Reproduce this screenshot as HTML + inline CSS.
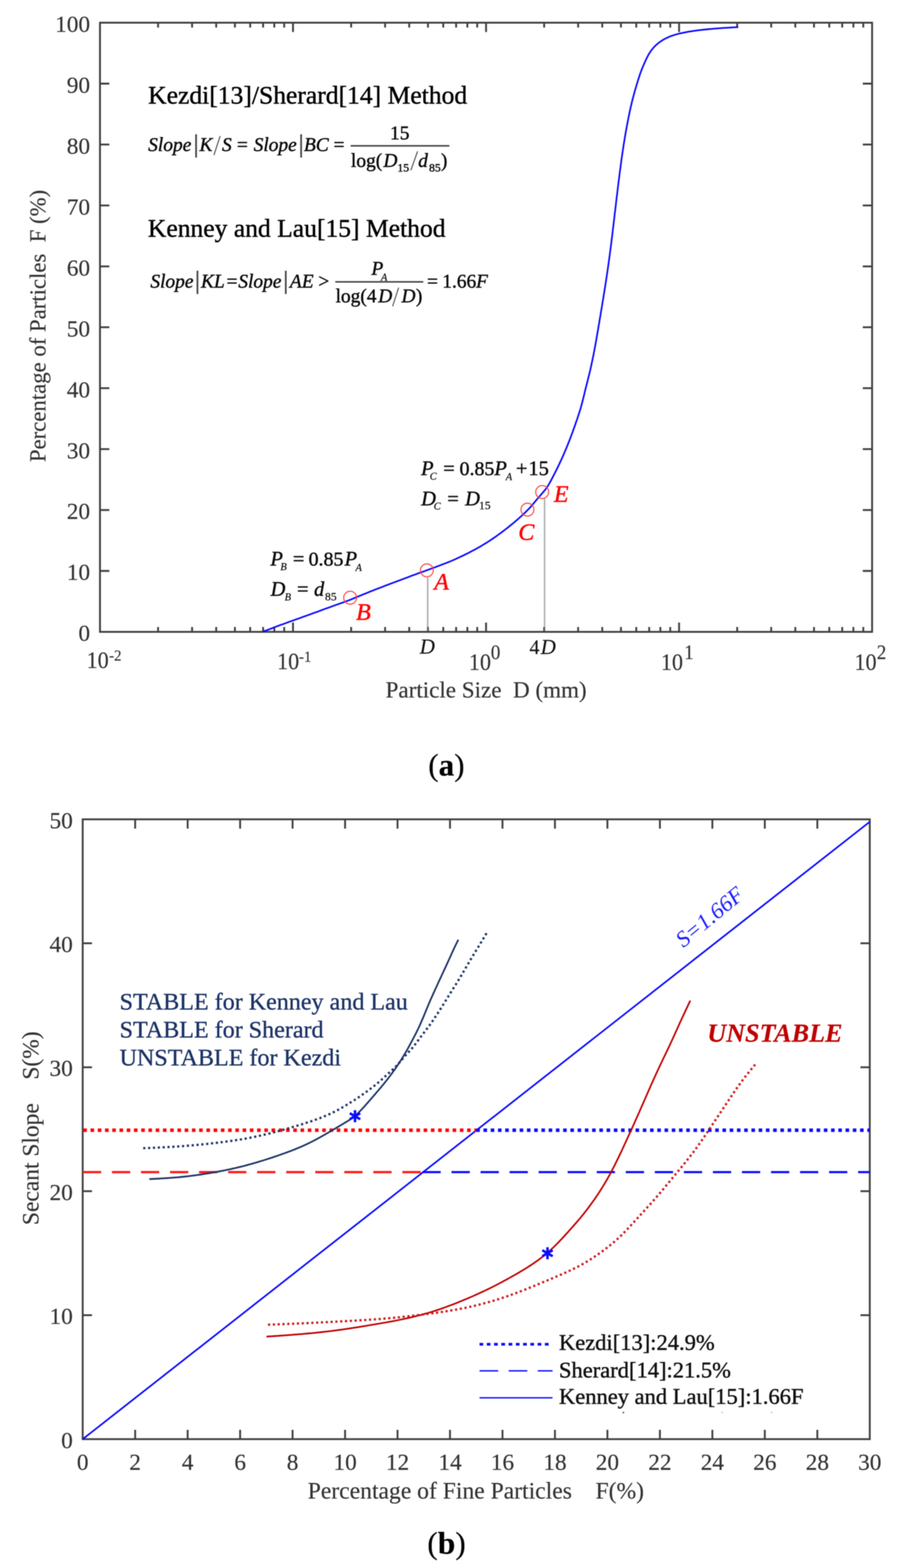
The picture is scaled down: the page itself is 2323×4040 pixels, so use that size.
<!DOCTYPE html>
<html lang="en"><head><meta charset="utf-8"><title>Figure</title>
<style>
html,body{margin:0;padding:0;background:#fff;}
body{width:2323px;height:4040px;overflow:hidden;}
svg{display:block;font-family:'Liberation Serif', 'DejaVu Serif', serif;}
text{white-space:pre;paint-order:stroke;stroke-linejoin:round;}
svg{filter:blur(1.1px);}
</style></head><body>
<svg width="2323" height="4040" viewBox="0 0 2323 4040">
<rect width="2323" height="4040" fill="#fff"/>
<g stroke="#404040" stroke-width="4.8" fill="none" stroke-linecap="butt">
<rect x="257.5" y="58.5" width="1988.5" height="1569.5"/>
<path d="M257.5,1471.0h24 M2246.0,1471.0h-24 M257.5,1314.1h24 M2246.0,1314.1h-24 M257.5,1157.2h24 M2246.0,1157.2h-24 M257.5,1000.2h24 M2246.0,1000.2h-24 M257.5,843.2h24 M2246.0,843.2h-24 M257.5,686.3h24 M2246.0,686.3h-24 M257.5,529.3h24 M2246.0,529.3h-24 M257.5,372.4h24 M2246.0,372.4h-24 M257.5,215.5h24 M2246.0,215.5h-24 M407.1,1628.0v-12.5 M407.1,58.5v12.5 M494.7,1628.0v-12.5 M494.7,58.5v12.5 M556.8,1628.0v-12.5 M556.8,58.5v12.5 M605.0,1628.0v-12.5 M605.0,58.5v12.5 M644.3,1628.0v-12.5 M644.3,58.5v12.5 M677.6,1628.0v-12.5 M677.6,58.5v12.5 M706.4,1628.0v-12.5 M706.4,58.5v12.5 M731.9,1628.0v-12.5 M731.9,58.5v12.5 M754.6,1628.0v-24 M754.6,58.5v24 M904.3,1628.0v-12.5 M904.3,58.5v12.5 M991.8,1628.0v-12.5 M991.8,58.5v12.5 M1053.9,1628.0v-12.5 M1053.9,58.5v12.5 M1102.1,1628.0v-12.5 M1102.1,58.5v12.5 M1141.5,1628.0v-12.5 M1141.5,58.5v12.5 M1174.7,1628.0v-12.5 M1174.7,58.5v12.5 M1203.6,1628.0v-12.5 M1203.6,58.5v12.5 M1229.0,1628.0v-12.5 M1229.0,58.5v12.5 M1251.8,1628.0v-24 M1251.8,58.5v24 M1401.4,1628.0v-12.5 M1401.4,58.5v12.5 M1488.9,1628.0v-12.5 M1488.9,58.5v12.5 M1551.0,1628.0v-12.5 M1551.0,58.5v12.5 M1599.2,1628.0v-12.5 M1599.2,58.5v12.5 M1638.6,1628.0v-12.5 M1638.6,58.5v12.5 M1671.9,1628.0v-12.5 M1671.9,58.5v12.5 M1700.7,1628.0v-12.5 M1700.7,58.5v12.5 M1726.1,1628.0v-12.5 M1726.1,58.5v12.5 M1748.9,1628.0v-24 M1748.9,58.5v24 M1898.5,1628.0v-12.5 M1898.5,58.5v12.5 M1986.1,1628.0v-12.5 M1986.1,58.5v12.5 M2048.2,1628.0v-12.5 M2048.2,58.5v12.5 M2096.4,1628.0v-12.5 M2096.4,58.5v12.5 M2135.7,1628.0v-12.5 M2135.7,58.5v12.5 M2169.0,1628.0v-12.5 M2169.0,58.5v12.5 M2197.8,1628.0v-12.5 M2197.8,58.5v12.5 M2223.3,1628.0v-12.5 M2223.3,58.5v12.5 "/>
</g>
<text x="232.0" y="1651.3" font-size="60" fill="#333333" stroke="#333333" stroke-width="0.4" text-anchor="end">0</text>
<text x="232.0" y="1494.3" font-size="60" fill="#333333" stroke="#333333" stroke-width="0.4" text-anchor="end">10</text>
<text x="232.0" y="1337.4" font-size="60" fill="#333333" stroke="#333333" stroke-width="0.4" text-anchor="end">20</text>
<text x="232.0" y="1180.5" font-size="60" fill="#333333" stroke="#333333" stroke-width="0.4" text-anchor="end">30</text>
<text x="232.0" y="1023.5" font-size="60" fill="#333333" stroke="#333333" stroke-width="0.4" text-anchor="end">40</text>
<text x="232.0" y="866.5" font-size="60" fill="#333333" stroke="#333333" stroke-width="0.4" text-anchor="end">50</text>
<text x="232.0" y="709.6" font-size="60" fill="#333333" stroke="#333333" stroke-width="0.4" text-anchor="end">60</text>
<text x="232.0" y="552.6" font-size="60" fill="#333333" stroke="#333333" stroke-width="0.4" text-anchor="end">70</text>
<text x="232.0" y="395.7" font-size="60" fill="#333333" stroke="#333333" stroke-width="0.4" text-anchor="end">80</text>
<text x="232.0" y="238.8" font-size="60" fill="#333333" stroke="#333333" stroke-width="0.4" text-anchor="end">90</text>
<text x="232.0" y="81.8" font-size="60" fill="#333333" stroke="#333333" stroke-width="0.4" text-anchor="end">100</text>
<text x="223.0" y="1721.0" font-size="61" fill="#333333" stroke="#333333" stroke-width="0.4" textLength="57" lengthAdjust="spacingAndGlyphs">10</text>
<text x="281.0" y="1702.0" font-size="41" fill="#333333" stroke="#333333" stroke-width="0.4" textLength="31.8" lengthAdjust="spacingAndGlyphs">-2</text>
<text x="713.5" y="1724.0" font-size="61" fill="#333333" stroke="#333333" stroke-width="0.4" textLength="57" lengthAdjust="spacingAndGlyphs">10</text>
<text x="770.0" y="1705.0" font-size="41" fill="#333333" stroke="#333333" stroke-width="0.4" textLength="31.8" lengthAdjust="spacingAndGlyphs">-1</text>
<text x="1207.5" y="1726.0" font-size="61" fill="#333333" stroke="#333333" stroke-width="0.4" textLength="57" lengthAdjust="spacingAndGlyphs">10</text>
<text x="1264.0" y="1698.0" font-size="53" fill="#333333" stroke="#333333" stroke-width="0.4" textLength="24.6" lengthAdjust="spacingAndGlyphs">0</text>
<text x="1702.0" y="1726.0" font-size="61" fill="#333333" stroke="#333333" stroke-width="0.4" textLength="57" lengthAdjust="spacingAndGlyphs">10</text>
<text x="1762.0" y="1698.0" font-size="53" fill="#333333" stroke="#333333" stroke-width="0.4" textLength="24.6" lengthAdjust="spacingAndGlyphs">1</text>
<text x="2200.5" y="1726.0" font-size="61" fill="#333333" stroke="#333333" stroke-width="0.4" textLength="57" lengthAdjust="spacingAndGlyphs">10</text>
<text x="2258.0" y="1698.0" font-size="53" fill="#333333" stroke="#333333" stroke-width="0.4" textLength="24.6" lengthAdjust="spacingAndGlyphs">2</text>
<text x="993.0" y="1796.5" font-size="59.4" fill="#333333" stroke="#333333" stroke-width="0.4">Particle Size&#160;&#160;D (mm)</text>
<text x="116.5" y="1190.5" font-size="58.6" fill="#333333" stroke="#333333" stroke-width="0.4" transform="rotate(-90 116.5 1190.5)">Percentage of Particles&#160;&#160;F (%)</text>
<path d="M1101.5,1489V1626 M1402.5,1286V1626" stroke="#7a7a7a" stroke-width="3.8" stroke-dasharray="2.6 1.4" fill="none"/>
<path d="M676.5,1627.8 L681.2,1626.0 L685.8,1624.2 L690.5,1622.4 L695.2,1620.7 L699.8,1618.9 L704.5,1617.1 L709.2,1615.3 L713.8,1613.6 L718.5,1611.8 L723.2,1610.1 L727.9,1608.4 L732.6,1606.7 L737.3,1605.0 L742.0,1603.3 L746.7,1601.6 L751.4,1599.9 L756.1,1598.2 L760.8,1596.5 L765.5,1594.8 L770.2,1593.2 L774.9,1591.5 L779.6,1589.8 L784.3,1588.1 L789.0,1586.4 L793.7,1584.7 L798.4,1583.0 L803.1,1581.3 L807.8,1579.6 L812.5,1577.9 L817.2,1576.2 L821.9,1574.5 L826.6,1572.8 L831.2,1571.0 L835.9,1569.3 L840.6,1567.6 L845.3,1565.9 L850.0,1564.2 L854.7,1562.5 L859.4,1560.8 L864.1,1559.1 L868.8,1557.5 L873.5,1555.8 L878.2,1554.1 L883.0,1552.5 L887.7,1550.8 L892.3,1549.1 L897.0,1547.3 L901.7,1545.5 L906.3,1543.6 L910.9,1541.7 L915.5,1539.8 L920.1,1537.8 L924.7,1535.9 L929.4,1534.0 L934.0,1532.1 L938.6,1530.2 L943.2,1528.4 L947.9,1526.5 L952.5,1524.6 L957.1,1522.8 L961.8,1521.0 L966.4,1519.1 L971.1,1517.3 L975.7,1515.5 L980.4,1513.7 L985.1,1511.9 L989.7,1510.1 L994.4,1508.3 L999.1,1506.5 L1003.7,1504.8 L1008.4,1503.0 L1013.1,1501.3 L1017.8,1499.5 L1022.4,1497.8 L1027.1,1496.0 L1031.8,1494.2 L1036.5,1492.5 L1041.1,1490.7 L1045.8,1488.9 L1050.5,1487.2 L1055.1,1485.4 L1059.8,1483.6 L1064.5,1481.9 L1069.2,1480.2 L1073.9,1478.4 L1078.6,1476.8 L1083.3,1475.1 L1088.0,1473.4 L1092.7,1471.7 L1097.4,1470.0 L1102.1,1468.3 L1106.8,1466.6 L1111.5,1464.9 L1116.1,1463.1 L1120.8,1461.4 L1125.5,1459.6 L1130.2,1457.9 L1134.8,1456.1 L1139.5,1454.3 L1144.2,1452.6 L1148.8,1450.8 L1153.5,1448.9 L1158.1,1447.1 L1162.7,1445.1 L1167.3,1443.1 L1171.9,1441.1 L1176.4,1439.0 L1180.9,1436.9 L1185.5,1434.8 L1190.0,1432.7 L1194.5,1430.5 L1199.0,1428.3 L1203.4,1426.1 L1207.9,1423.8 L1212.3,1421.5 L1216.8,1419.2 L1221.2,1416.9 L1225.6,1414.5 L1229.9,1412.0 L1234.3,1409.6 L1238.6,1407.1 L1242.9,1404.5 L1247.2,1401.9 L1251.4,1399.3 L1255.7,1396.7 L1259.9,1394.0 L1264.0,1391.2 L1268.2,1388.4 L1272.3,1385.6 L1276.4,1382.8 L1280.5,1379.9 L1284.5,1376.9 L1288.6,1374.0 L1292.6,1371.0 L1296.5,1368.0 L1300.5,1364.9 L1304.5,1361.9 L1308.4,1358.8 L1312.3,1355.7 L1316.2,1352.5 L1320.0,1349.3 L1323.9,1346.1 L1327.7,1342.9 L1331.5,1339.7 L1335.2,1336.4 L1339.0,1333.0 L1342.7,1329.7 L1346.3,1326.3 L1350.0,1322.9 L1353.6,1319.4 L1357.1,1315.9 L1360.6,1312.3 L1364.1,1308.7 L1367.4,1305.0 L1370.7,1301.3 L1373.9,1297.4 L1377.1,1293.6 L1380.3,1289.7 L1383.5,1285.9 L1386.7,1282.1 L1390.0,1278.3 L1393.3,1274.5 L1396.6,1270.8 L1399.8,1267.0 L1403.0,1263.1 L1406.1,1259.2 L1409.0,1255.1 L1411.7,1251.0 L1414.2,1246.7 L1416.7,1242.3 L1419.1,1237.9 L1421.4,1233.5 L1423.7,1229.0 L1426.0,1224.6 L1428.3,1220.2 L1430.5,1215.7 L1432.8,1211.2 L1435.0,1206.8 L1437.2,1202.3 L1439.3,1197.8 L1441.5,1193.3 L1443.6,1188.7 L1445.7,1184.2 L1447.8,1179.7 L1449.8,1175.1 L1451.8,1170.5 L1453.8,1165.9 L1455.7,1161.3 L1457.7,1156.7 L1459.6,1152.1 L1461.5,1147.5 L1463.3,1142.9 L1465.2,1138.2 L1467.0,1133.6 L1468.8,1128.9 L1470.5,1124.2 L1472.3,1119.5 L1474.0,1114.9 L1475.7,1110.2 L1477.4,1105.5 L1479.1,1100.8 L1480.8,1096.0 L1482.4,1091.3 L1484.0,1086.6 L1485.7,1081.9 L1487.3,1077.1 L1488.8,1072.4 L1490.4,1067.7 L1491.9,1062.9 L1493.4,1058.1 L1494.9,1053.3 L1496.3,1048.6 L1497.6,1043.7 L1498.9,1038.9 L1500.2,1034.1 L1501.4,1029.3 L1502.6,1024.4 L1503.8,1019.6 L1505.0,1014.7 L1506.1,1009.8 L1507.3,1005.0 L1508.5,1000.1 L1509.7,995.3 L1510.9,990.4 L1512.2,985.6 L1513.4,980.8 L1514.6,975.9 L1515.8,971.1 L1517.0,966.2 L1518.2,961.4 L1519.4,956.5 L1520.5,951.6 L1521.6,946.8 L1522.7,941.9 L1523.7,937.0 L1524.8,932.1 L1525.8,927.2 L1526.8,922.4 L1527.8,917.5 L1528.8,912.6 L1529.7,907.7 L1530.7,902.7 L1531.6,897.8 L1532.5,892.9 L1533.4,888.0 L1534.3,883.1 L1535.2,878.2 L1536.0,873.3 L1536.9,868.3 L1537.7,863.4 L1538.6,858.5 L1539.4,853.6 L1540.3,848.6 L1541.1,843.7 L1541.9,838.8 L1542.8,833.9 L1543.6,828.9 L1544.4,824.0 L1545.2,819.1 L1546.1,814.2 L1546.9,809.2 L1547.7,804.3 L1548.5,799.4 L1549.4,794.5 L1550.2,789.5 L1551.0,784.6 L1551.8,779.7 L1552.6,774.7 L1553.4,769.8 L1554.2,764.9 L1555.0,760.0 L1555.8,755.0 L1556.6,750.1 L1557.4,745.2 L1558.2,740.2 L1558.9,735.3 L1559.7,730.4 L1560.5,725.4 L1561.2,720.5 L1562.0,715.5 L1562.7,710.6 L1563.4,705.7 L1564.2,700.7 L1564.9,695.8 L1565.6,690.8 L1566.3,685.9 L1567.0,680.9 L1567.7,676.0 L1568.4,671.0 L1569.0,666.1 L1569.7,661.1 L1570.4,656.2 L1571.0,651.2 L1571.7,646.3 L1572.3,641.3 L1573.0,636.4 L1573.6,631.4 L1574.2,626.5 L1574.8,621.5 L1575.4,616.6 L1576.1,611.6 L1576.7,606.6 L1577.3,601.7 L1577.9,596.7 L1578.4,591.8 L1579.0,586.8 L1579.6,581.8 L1580.2,576.9 L1580.8,571.9 L1581.4,567.0 L1582.0,562.0 L1582.5,557.0 L1583.1,552.1 L1583.7,547.1 L1584.3,542.2 L1584.9,537.2 L1585.5,532.2 L1586.1,527.3 L1586.6,522.3 L1587.2,517.4 L1587.8,512.4 L1588.4,507.4 L1589.0,502.5 L1589.6,497.5 L1590.2,492.6 L1590.8,487.6 L1591.4,482.6 L1592.0,477.7 L1592.6,472.7 L1593.2,467.8 L1593.9,462.8 L1594.5,457.9 L1595.1,452.9 L1595.7,448.0 L1596.4,443.0 L1597.0,438.0 L1597.7,433.1 L1598.3,428.1 L1599.0,423.2 L1599.6,418.2 L1600.3,413.3 L1601.0,408.3 L1601.7,403.4 L1602.4,398.4 L1603.1,393.5 L1603.9,388.6 L1604.6,383.6 L1605.3,378.7 L1606.1,373.7 L1606.9,368.8 L1607.7,363.9 L1608.5,359.0 L1609.3,354.0 L1610.1,349.1 L1611.0,344.2 L1611.8,339.3 L1612.7,334.3 L1613.6,329.4 L1614.5,324.5 L1615.4,319.6 L1616.4,314.7 L1617.3,309.8 L1618.3,304.9 L1619.3,300.0 L1620.3,295.1 L1621.3,290.2 L1622.3,285.3 L1623.4,280.4 L1624.5,275.6 L1625.6,270.7 L1626.8,265.8 L1627.9,261.0 L1629.2,256.1 L1630.4,251.3 L1631.7,246.5 L1633.0,241.7 L1634.3,236.9 L1635.7,232.0 L1637.1,227.2 L1638.5,222.5 L1639.9,217.7 L1641.4,212.9 L1642.8,208.1 L1644.3,203.3 L1645.8,198.6 L1647.4,193.8 L1649.0,189.1 L1650.7,184.4 L1652.5,179.7 L1654.3,175.1 L1656.2,170.5 L1658.2,165.9 L1660.2,161.3 L1662.3,156.7 L1664.4,152.2 L1666.6,147.7 L1668.9,143.3 L1671.3,138.9 L1674.0,134.7 L1676.8,130.6 L1679.8,126.6 L1683.1,122.8 L1686.5,119.1 L1690.1,115.7 L1693.9,112.4 L1697.8,109.3 L1701.9,106.4 L1706.1,103.7 L1710.4,101.2 L1714.8,98.9 L1719.3,96.7 L1723.9,94.6 L1728.5,92.8 L1733.2,91.2 L1738.0,89.7 L1742.8,88.3 L1747.6,87.0 L1752.5,85.9 L1757.4,84.8 L1762.2,83.8 L1767.2,82.8 L1772.1,81.9 L1777.0,81.1 L1781.9,80.3 L1786.9,79.6 L1791.8,78.9 L1796.8,78.2 L1801.7,77.6 L1806.7,77.1 L1811.7,76.5 L1816.6,76.0 L1821.6,75.5 L1826.6,75.0 L1831.5,74.6 L1836.5,74.2 L1841.5,73.7 L1846.5,73.3 L1851.5,72.9 L1856.4,72.6 L1861.4,72.2 L1866.4,71.9 L1871.4,71.6 L1876.4,71.3 L1881.4,71.0 L1886.3,70.7 L1891.3,70.4 L1896.3,70.1 L1901.3,69.8" stroke="#0a0aff" stroke-width="4.3" fill="none" stroke-linejoin="round"/>
<circle cx="901.7" cy="1540" r="16.6" stroke="#ff4545" stroke-width="2.8" fill="none"/>
<circle cx="1099.3" cy="1469.6" r="16.6" stroke="#ff4545" stroke-width="2.8" fill="none"/>
<circle cx="1358.4" cy="1313.1" r="16.6" stroke="#ff4545" stroke-width="2.8" fill="none"/>
<circle cx="1396.3" cy="1267.8" r="16.6" stroke="#ff4545" stroke-width="2.8" fill="none"/>
<text x="1081.0" y="1684.0" font-size="54" fill="#111" stroke="#111" stroke-width="0.3" font-style="italic">D</text>
<text x="1363.5" y="1684.5" font-size="52" fill="#111" stroke="#111" stroke-width="0.3">4</text>
<text x="1392.5" y="1684.5" font-size="54" fill="#111" stroke="#111" stroke-width="0.3" font-style="italic">D</text>
<text x="381.6" y="266.5" font-size="65.9" fill="#000" stroke="#000" stroke-width="1.0">Kezdi[13]/Sherard[14] Method</text>
<text x="380.8" y="610.0" font-size="65.9" fill="#000" stroke="#000" stroke-width="1.0">Kenney and Lau[15] Method</text>
<text x="381.5" y="388.5" font-size="50" fill="#0a0a0a" stroke="#0a0a0a" stroke-width="1.0" font-style="italic">Slope</text>
<path d="M505,346V406" stroke="#444" stroke-width="4.4" fill="none"/>
<text x="513.8" y="388.5" font-size="50" fill="#0a0a0a" stroke="#0a0a0a" stroke-width="1.0" font-style="italic">K</text>
<path d="M567,350.5L551,399.5" stroke="#4a4a4a" stroke-width="2.6" fill="none"/>
<text x="571.7" y="388.5" font-size="50" fill="#0a0a0a" stroke="#0a0a0a" stroke-width="1.0" font-style="italic">S</text>
<text x="610.2" y="388.5" font-size="50" fill="#0a0a0a" stroke="#0a0a0a" stroke-width="1.0">=</text>
<text x="653.2" y="388.5" font-size="50" fill="#0a0a0a" stroke="#0a0a0a" stroke-width="1.0" font-style="italic">Slope</text>
<path d="M775.5,346V406" stroke="#444" stroke-width="4.4" fill="none"/>
<text x="782.8" y="388.5" font-size="50" fill="#0a0a0a" stroke="#0a0a0a" stroke-width="1.0" font-style="italic">BC</text>
<text x="859.0" y="388.5" font-size="50" fill="#0a0a0a" stroke="#0a0a0a" stroke-width="1.0">=</text>
<path d="M903,375.8H1157.5" stroke="#444" stroke-width="4" fill="none"/>
<text x="1004.6" y="359.4" font-size="50" fill="#0a0a0a" stroke="#0a0a0a" stroke-width="1.0">15</text>
<text x="903.8" y="429.5" font-size="50" fill="#0a0a0a" stroke="#0a0a0a" stroke-width="1.0">log(</text>
<text x="987.6" y="429.5" font-size="50" fill="#0a0a0a" stroke="#0a0a0a" stroke-width="1.0" font-style="italic">D</text>
<text x="1023.4" y="442.2" font-size="30" fill="#0a0a0a" stroke="#0a0a0a" stroke-width="1.0">15</text>
<path d="M1075.4,390L1058,439" stroke="#4a4a4a" stroke-width="2.6" fill="none"/>
<text x="1077.1" y="429.5" font-size="50" fill="#0a0a0a" stroke="#0a0a0a" stroke-width="1.0" font-style="italic">d</text>
<text x="1104.9" y="442.2" font-size="30" fill="#0a0a0a" stroke="#0a0a0a" stroke-width="1.0">85</text>
<text x="1135.4" y="429.5" font-size="50" fill="#0a0a0a" stroke="#0a0a0a" stroke-width="1.0">)</text>
<text x="387.2" y="740.7" font-size="50" fill="#0a0a0a" stroke="#0a0a0a" stroke-width="1.0" font-style="italic">Slope</text>
<path d="M508.5,697.5V757.5" stroke="#444" stroke-width="4.4" fill="none"/>
<text x="517.6" y="740.7" font-size="50" fill="#0a0a0a" stroke="#0a0a0a" stroke-width="1.0" font-style="italic">KL</text>
<text x="583.4" y="740.7" font-size="50" fill="#0a0a0a" stroke="#0a0a0a" stroke-width="1.0">=</text>
<text x="613.7" y="740.7" font-size="50" fill="#0a0a0a" stroke="#0a0a0a" stroke-width="1.0" font-style="italic">Slope</text>
<path d="M736,697.5V757.5" stroke="#444" stroke-width="4.4" fill="none"/>
<text x="746.6" y="740.7" font-size="50" fill="#0a0a0a" stroke="#0a0a0a" stroke-width="1.0" font-style="italic">AE</text>
<text x="819.8" y="740.7" font-size="50" fill="#0a0a0a" stroke="#0a0a0a" stroke-width="1.0">&gt;</text>
<path d="M863.5,726.2H1090.2" stroke="#444" stroke-width="4" fill="none"/>
<text x="956.6" y="708.4" font-size="50" fill="#0a0a0a" stroke="#0a0a0a" stroke-width="1.0" font-style="italic">P</text>
<text x="981.0" y="722.8" font-size="27" fill="#0a0a0a" stroke="#0a0a0a" stroke-width="0.4" font-style="italic">A</text>
<text x="864.2" y="778.8" font-size="50" fill="#0a0a0a" stroke="#0a0a0a" stroke-width="1.0">log(4</text>
<text x="974.0" y="778.8" font-size="50" fill="#0a0a0a" stroke="#0a0a0a" stroke-width="1.0" font-style="italic">D</text>
<path d="M1026.6,741L1011.2,789.1" stroke="#4a4a4a" stroke-width="2.6" fill="none"/>
<text x="1034.1" y="778.8" font-size="50" fill="#0a0a0a" stroke="#0a0a0a" stroke-width="1.0" font-style="italic">D</text>
<text x="1070.9" y="778.8" font-size="50" fill="#0a0a0a" stroke="#0a0a0a" stroke-width="1.0">)</text>
<text x="1099.7" y="740.7" font-size="50" fill="#0a0a0a" stroke="#0a0a0a" stroke-width="1.0">=</text>
<text x="1139.0" y="740.7" font-size="50" fill="#0a0a0a" stroke="#0a0a0a" stroke-width="1.0">1.66</text>
<text x="1226.1" y="740.7" font-size="50" fill="#0a0a0a" stroke="#0a0a0a" stroke-width="1.0" font-style="italic">F</text>
<text x="916.9" y="1596.9" font-size="62" fill="#ff0000" stroke="#ff0000" stroke-width="1.0" font-style="italic">B</text>
<text x="1118.3" y="1518.9" font-size="62" fill="#ff0000" stroke="#ff0000" stroke-width="1.0" font-style="italic">A</text>
<text x="1334.8" y="1390.8" font-size="62" fill="#ff0000" stroke="#ff0000" stroke-width="1.0" font-style="italic">C</text>
<text x="1426.5" y="1293.2" font-size="62" fill="#ff0000" stroke="#ff0000" stroke-width="1.0" font-style="italic">E</text>
<text x="696.6" y="1456.8" font-size="52.5" fill="#0a0a0a" stroke="#0a0a0a" stroke-width="1.0" font-style="italic">P</text>
<text x="722.1" y="1469.1" font-size="27" fill="#0a0a0a" stroke="#0a0a0a" stroke-width="0.4" font-style="italic">B</text>
<text x="754.2" y="1456.8" font-size="52.5" fill="#0a0a0a" stroke="#0a0a0a" stroke-width="1.0">=</text>
<text x="794.7" y="1456.8" font-size="51.3" fill="#0a0a0a" stroke="#0a0a0a" stroke-width="1.0">0.85</text>
<text x="887.6" y="1456.8" font-size="52.5" fill="#0a0a0a" stroke="#0a0a0a" stroke-width="1.0" font-style="italic">P</text>
<text x="915.5" y="1470.5" font-size="27" fill="#0a0a0a" stroke="#0a0a0a" stroke-width="0.4" font-style="italic">A</text>
<text x="696.9" y="1535.0" font-size="52.5" fill="#0a0a0a" stroke="#0a0a0a" stroke-width="1.0" font-style="italic">D</text>
<text x="733.1" y="1547.4" font-size="27" fill="#0a0a0a" stroke="#0a0a0a" stroke-width="0.4" font-style="italic">B</text>
<text x="765.1" y="1535.0" font-size="52.5" fill="#0a0a0a" stroke="#0a0a0a" stroke-width="1.0">=</text>
<text x="808.7" y="1535.0" font-size="52.5" fill="#0a0a0a" stroke="#0a0a0a" stroke-width="1.0" font-style="italic">d</text>
<text x="836.9" y="1546.6" font-size="30" fill="#0a0a0a" stroke="#0a0a0a" stroke-width="0.5">85</text>
<text x="1084.4" y="1223.5" font-size="52.5" fill="#0a0a0a" stroke="#0a0a0a" stroke-width="1.0" font-style="italic">P</text>
<text x="1106.7" y="1236.2" font-size="27" fill="#0a0a0a" stroke="#0a0a0a" stroke-width="0.4" font-style="italic">C</text>
<text x="1141.6" y="1223.5" font-size="52.5" fill="#0a0a0a" stroke="#0a0a0a" stroke-width="1.0">=</text>
<text x="1183.5" y="1223.5" font-size="51.3" fill="#0a0a0a" stroke="#0a0a0a" stroke-width="1.0">0.85</text>
<text x="1273.3" y="1223.5" font-size="52.5" fill="#0a0a0a" stroke="#0a0a0a" stroke-width="1.0" font-style="italic">P</text>
<text x="1302.5" y="1236.5" font-size="27" fill="#0a0a0a" stroke="#0a0a0a" stroke-width="0.4" font-style="italic">A</text>
<text x="1328.8" y="1223.5" font-size="52.5" fill="#0a0a0a" stroke="#0a0a0a" stroke-width="1.0">+</text>
<text x="1361.1" y="1223.5" font-size="52.5" fill="#0a0a0a" stroke="#0a0a0a" stroke-width="1.0">15</text>
<text x="1084.7" y="1301.5" font-size="52.5" fill="#0a0a0a" stroke="#0a0a0a" stroke-width="1.0" font-style="italic">D</text>
<text x="1117.0" y="1312.8" font-size="27" fill="#0a0a0a" stroke="#0a0a0a" stroke-width="0.4" font-style="italic">C</text>
<text x="1151.9" y="1301.5" font-size="52.5" fill="#0a0a0a" stroke="#0a0a0a" stroke-width="1.0">=</text>
<text x="1198.1" y="1301.5" font-size="52.5" fill="#0a0a0a" stroke="#0a0a0a" stroke-width="1.0" font-style="italic">D</text>
<text x="1233.4" y="1311.8" font-size="30" fill="#0a0a0a" stroke="#0a0a0a" stroke-width="0.5">15</text>
<g stroke="#404040" stroke-width="4.8" fill="none">
<rect x="213.0" y="2111.0" width="2027.0" height="1597.0"/>
<path d="M213.0,3388.6h24 M2240.0,3388.6h-24 M213.0,3069.2h24 M2240.0,3069.2h-24 M213.0,2749.8h24 M2240.0,2749.8h-24 M213.0,2430.4h24 M2240.0,2430.4h-24 M348.1,3708.0v-24 M348.1,2111.0v24 M483.3,3708.0v-24 M483.3,2111.0v24 M618.4,3708.0v-24 M618.4,2111.0v24 M753.5,3708.0v-24 M753.5,2111.0v24 M888.7,3708.0v-24 M888.7,2111.0v24 M1023.8,3708.0v-24 M1023.8,2111.0v24 M1158.9,3708.0v-24 M1158.9,2111.0v24 M1294.1,3708.0v-24 M1294.1,2111.0v24 M1429.2,3708.0v-24 M1429.2,2111.0v24 M1564.3,3708.0v-24 M1564.3,2111.0v24 M1699.5,3708.0v-24 M1699.5,2111.0v24 M1834.6,3708.0v-24 M1834.6,2111.0v24 M1969.7,3708.0v-24 M1969.7,2111.0v24 M2104.9,3708.0v-24 M2104.9,2111.0v24 "/>
</g>
<text x="187.5" y="3730.5" font-size="60" fill="#333333" stroke="#333333" stroke-width="0.4" text-anchor="end">0</text>
<text x="187.5" y="3411.1" font-size="60" fill="#333333" stroke="#333333" stroke-width="0.4" text-anchor="end">10</text>
<text x="187.5" y="3091.7" font-size="60" fill="#333333" stroke="#333333" stroke-width="0.4" text-anchor="end">20</text>
<text x="187.5" y="2772.3" font-size="60" fill="#333333" stroke="#333333" stroke-width="0.4" text-anchor="end">30</text>
<text x="187.5" y="2452.9" font-size="60" fill="#333333" stroke="#333333" stroke-width="0.4" text-anchor="end">40</text>
<text x="187.5" y="2133.5" font-size="60" fill="#333333" stroke="#333333" stroke-width="0.4" text-anchor="end">50</text>
<text x="213.0" y="3787.0" font-size="60" fill="#333333" stroke="#333333" stroke-width="0.4" text-anchor="middle">0</text>
<text x="348.1" y="3787.0" font-size="60" fill="#333333" stroke="#333333" stroke-width="0.4" text-anchor="middle">2</text>
<text x="483.3" y="3787.0" font-size="60" fill="#333333" stroke="#333333" stroke-width="0.4" text-anchor="middle">4</text>
<text x="618.4" y="3787.0" font-size="60" fill="#333333" stroke="#333333" stroke-width="0.4" text-anchor="middle">6</text>
<text x="753.5" y="3787.0" font-size="60" fill="#333333" stroke="#333333" stroke-width="0.4" text-anchor="middle">8</text>
<text x="888.7" y="3787.0" font-size="60" fill="#333333" stroke="#333333" stroke-width="0.4" text-anchor="middle">10</text>
<text x="1023.8" y="3787.0" font-size="60" fill="#333333" stroke="#333333" stroke-width="0.4" text-anchor="middle">12</text>
<text x="1158.9" y="3787.0" font-size="60" fill="#333333" stroke="#333333" stroke-width="0.4" text-anchor="middle">14</text>
<text x="1294.1" y="3787.0" font-size="60" fill="#333333" stroke="#333333" stroke-width="0.4" text-anchor="middle">16</text>
<text x="1429.2" y="3787.0" font-size="60" fill="#333333" stroke="#333333" stroke-width="0.4" text-anchor="middle">18</text>
<text x="1564.3" y="3787.0" font-size="60" fill="#333333" stroke="#333333" stroke-width="0.4" text-anchor="middle">20</text>
<text x="1699.5" y="3787.0" font-size="60" fill="#333333" stroke="#333333" stroke-width="0.4" text-anchor="middle">22</text>
<text x="1834.6" y="3787.0" font-size="60" fill="#333333" stroke="#333333" stroke-width="0.4" text-anchor="middle">24</text>
<text x="1969.7" y="3787.0" font-size="60" fill="#333333" stroke="#333333" stroke-width="0.4" text-anchor="middle">26</text>
<text x="2104.9" y="3787.0" font-size="60" fill="#333333" stroke="#333333" stroke-width="0.4" text-anchor="middle">28</text>
<text x="2240.0" y="3787.0" font-size="60" fill="#333333" stroke="#333333" stroke-width="0.4" text-anchor="middle">30</text>
<text x="792.5" y="3861.0" font-size="60.8" fill="#333333" stroke="#333333" stroke-width="0.4">Percentage of Fine Particles&#160;&#160;&#160;&#160;F(%)</text>
<text x="98.5" y="3156.5" font-size="60.5" fill="#333333" stroke="#333333" stroke-width="0.4" transform="rotate(-90 98.5 3156.5)">Secant Slope&#160;&#160;&#160;&#160;S(%)</text>
<path d="M213.0,3708.0L2240.0,2117.4" stroke="#0a0aff" stroke-width="4.3" fill="none"/>
<path d="M213.0,2912H1226.5" stroke="#ff0000" stroke-width="8.8" stroke-dasharray="9.2 9.45" stroke-dashoffset="-1.5" fill="none"/>
<path d="M1226.5,2912H2240.0" stroke="#0a0aff" stroke-width="8.8" stroke-dasharray="9.2 9.45" fill="none"/>
<path d="M213.0,3020H1088.0" stroke="#ff2020" stroke-width="5.8" stroke-dasharray="47 27.8" stroke-dashoffset="-0.5" fill="none"/>
<path d="M1088.0,3020H2240.0" stroke="#0a0aff" stroke-width="5.6" stroke-dasharray="47 27.8" fill="none"/>
<path d="M384.5,3038.0 L389.5,3037.7 L394.5,3037.5 L399.5,3037.2 L404.4,3037.0 L409.4,3036.7 L414.4,3036.4 L419.4,3036.1 L424.4,3035.8 L429.3,3035.5 L434.3,3035.1 L439.3,3034.8 L444.3,3034.4 L449.2,3034.0 L454.2,3033.6 L459.2,3033.2 L464.1,3032.7 L469.1,3032.2 L474.1,3031.7 L479.0,3031.2 L484.0,3030.6 L488.9,3030.0 L493.9,3029.4 L498.8,3028.8 L503.8,3028.1 L508.7,3027.4 L513.7,3026.7 L518.6,3026.0 L523.5,3025.2 L528.5,3024.4 L533.4,3023.6 L538.3,3022.8 L543.2,3022.0 L548.1,3021.1 L553.1,3020.3 L558.0,3019.4 L562.9,3018.5 L567.8,3017.5 L572.7,3016.6 L577.6,3015.6 L582.5,3014.6 L587.4,3013.6 L592.2,3012.6 L597.1,3011.5 L602.0,3010.4 L606.8,3009.3 L611.7,3008.1 L616.5,3007.0 L621.4,3005.8 L626.2,3004.6 L631.0,3003.3 L635.9,3002.0 L640.7,3000.7 L645.5,2999.4 L650.3,2998.1 L655.1,2996.7 L659.9,2995.3 L664.7,2993.9 L669.4,2992.4 L674.2,2991.0 L679.0,2989.5 L683.7,2988.0 L688.5,2986.5 L693.2,2984.9 L698.0,2983.4 L702.7,2981.8 L707.4,2980.2 L712.2,2978.6 L716.9,2977.0 L721.6,2975.3 L726.3,2973.7 L731.0,2972.0 L735.7,2970.3 L740.4,2968.6 L745.1,2966.8 L749.8,2965.1 L754.4,2963.3 L759.1,2961.4 L763.7,2959.5 L768.3,2957.6 L772.9,2955.7 L777.5,2953.7 L782.0,2951.7 L786.6,2949.6 L791.1,2947.5 L795.6,2945.3 L800.0,2943.1 L804.5,2940.9 L808.9,2938.6 L813.3,2936.3 L817.7,2933.9 L822.1,2931.5 L826.4,2929.1 L830.8,2926.6 L835.1,2924.2 L839.5,2921.7 L843.8,2919.2 L848.1,2916.7 L852.4,2914.1 L856.7,2911.6 L861.0,2909.1 L865.3,2906.5 L869.6,2904.0 L873.9,2901.4 L878.2,2898.9 L882.5,2896.3 L886.8,2893.7 L891.1,2891.1 L895.3,2888.5 L899.5,2885.8 L903.6,2883.0 L907.6,2880.1 L911.6,2877.1 L915.4,2873.9 L919.1,2870.7 L922.8,2867.3 L926.3,2863.8 L929.8,2860.3 L933.2,2856.6 L936.6,2852.9 L939.9,2849.2 L943.2,2845.4 L946.5,2841.7 L949.8,2837.9 L953.1,2834.1 L956.4,2830.3 L959.6,2826.6 L962.9,2822.8 L966.2,2819.0 L969.4,2815.2 L972.7,2811.4 L975.9,2807.6 L979.1,2803.8 L982.3,2800.0 L985.5,2796.2 L988.7,2792.3 L991.8,2788.4 L994.9,2784.5 L998.0,2780.6 L1001.0,2776.7 L1004.0,2772.7 L1007.0,2768.7 L1010.0,2764.7 L1012.9,2760.6 L1015.8,2756.6 L1018.7,2752.5 L1021.5,2748.4 L1024.3,2744.2 L1027.0,2740.1 L1029.8,2735.9 L1032.5,2731.7 L1035.1,2727.5 L1037.7,2723.2 L1040.3,2719.0 L1042.9,2714.7 L1045.4,2710.4 L1047.9,2706.0 L1050.3,2701.7 L1052.7,2697.3 L1055.1,2692.9 L1057.5,2688.5 L1059.8,2684.1 L1062.2,2679.7 L1064.5,2675.3 L1066.8,2670.9 L1069.1,2666.5 L1071.4,2662.0 L1073.6,2657.6 L1075.8,2653.1 L1077.9,2648.6 L1080.0,2644.1 L1082.1,2639.5 L1084.1,2635.0 L1086.1,2630.4 L1088.0,2625.8 L1090.0,2621.2 L1091.9,2616.6 L1093.8,2612.0 L1095.7,2607.4 L1097.6,2602.8 L1099.5,2598.1 L1101.4,2593.5 L1103.3,2588.9 L1105.3,2584.3 L1107.2,2579.7 L1109.2,2575.2 L1111.2,2570.6 L1113.3,2566.1 L1115.3,2561.5 L1117.4,2557.0 L1119.4,2552.4 L1121.5,2547.9 L1123.6,2543.4 L1125.7,2538.8 L1127.7,2534.3 L1129.8,2529.7 L1131.9,2525.2 L1134.0,2520.7 L1136.1,2516.1 L1138.2,2511.6 L1140.3,2507.1 L1142.4,2502.6 L1144.5,2498.0 L1146.6,2493.5 L1148.7,2489.0 L1150.8,2484.5 L1152.9,2479.9 L1154.9,2475.4 L1157.0,2470.9 L1159.1,2466.3 L1161.1,2461.8 L1163.2,2457.2 L1165.2,2452.7 L1167.3,2448.2 L1169.4,2443.6 L1171.5,2439.1 L1173.7,2434.6 L1175.9,2430.1 L1178.1,2425.7 L1180.3,2421.2" stroke="#1c3366" stroke-width="4.4" fill="none"/>
<path d="M368.8,2958.4 L373.8,2958.2 L378.8,2958.0 L383.7,2957.8 L388.7,2957.6 L393.7,2957.3 L398.7,2957.1 L403.6,2956.9 L408.6,2956.7 L413.6,2956.4 L418.6,2956.2 L423.5,2955.9 L428.5,2955.7 L433.5,2955.4 L438.5,2955.1 L443.4,2954.8 L448.4,2954.5 L453.4,2954.2 L458.3,2953.9 L463.3,2953.5 L468.3,2953.2 L473.2,2952.8 L478.2,2952.4 L483.2,2952.0 L488.1,2951.6 L493.1,2951.1 L498.1,2950.7 L503.0,2950.3 L508.0,2949.8 L512.9,2949.3 L517.9,2948.8 L522.9,2948.3 L527.8,2947.8 L532.8,2947.3 L537.7,2946.7 L542.7,2946.2 L547.6,2945.6 L552.6,2945.1 L557.5,2944.5 L562.5,2943.9 L567.4,2943.3 L572.4,2942.7 L577.3,2942.0 L582.2,2941.4 L587.2,2940.7 L592.1,2940.0 L597.0,2939.3 L602.0,2938.6 L606.9,2937.8 L611.8,2937.1 L616.7,2936.3 L621.7,2935.5 L626.6,2934.6 L631.5,2933.8 L636.4,2932.9 L641.3,2932.0 L646.2,2931.0 L651.0,2930.1 L655.9,2929.1 L660.8,2928.0 L665.7,2927.0 L670.5,2925.9 L675.4,2924.8 L680.3,2923.7 L685.1,2922.6 L689.9,2921.4 L694.8,2920.2 L699.6,2919.0 L704.4,2917.7 L709.2,2916.4 L714.1,2915.1 L718.9,2913.8 L723.7,2912.5 L728.5,2911.2 L733.2,2909.8 L738.0,2908.4 L742.8,2907.0 L747.6,2905.6 L752.4,2904.2 L757.2,2902.8 L761.9,2901.4 L766.7,2900.0 L771.5,2898.5 L776.2,2897.1 L781.0,2895.6 L785.8,2894.1 L790.5,2892.5 L795.2,2891.0 L799.9,2889.4 L804.7,2887.8 L809.4,2886.1 L814.0,2884.5 L818.7,2882.7 L823.4,2881.0 L828.0,2879.2 L832.7,2877.3 L837.3,2875.4 L841.8,2873.5 L846.4,2871.5 L850.9,2869.4 L855.4,2867.3 L859.9,2865.1 L864.4,2862.9 L868.8,2860.6 L873.2,2858.2 L877.5,2855.8 L881.9,2853.3 L886.1,2850.8 L890.4,2848.2 L894.7,2845.6 L898.9,2843.0 L903.1,2840.3 L907.4,2837.7 L911.6,2835.1 L915.8,2832.4 L920.0,2829.7 L924.1,2826.9 L928.2,2824.1 L932.3,2821.2 L936.3,2818.4 L940.4,2815.4 L944.4,2812.5 L948.4,2809.5 L952.4,2806.5 L956.3,2803.5 L960.3,2800.5 L964.2,2797.4 L968.1,2794.3 L971.9,2791.1 L975.7,2787.9 L979.5,2784.6 L983.2,2781.3 L986.9,2778.0 L990.6,2774.6 L994.3,2771.2 L997.9,2767.9 L1001.6,2764.5 L1005.3,2761.2 L1009.0,2757.8 L1012.6,2754.5 L1016.2,2751.0 L1019.7,2747.5 L1023.1,2743.9 L1026.4,2740.2 L1029.7,2736.4 L1032.9,2732.6 L1036.2,2728.8 L1039.4,2725.1 L1042.7,2721.3 L1046.1,2717.6 L1049.5,2714.0 L1052.8,2710.3 L1056.2,2706.6 L1059.4,2702.9 L1062.6,2699.1 L1065.7,2695.2 L1068.8,2691.3 L1071.8,2687.3 L1074.8,2683.3 L1077.8,2679.3 L1080.7,2675.3 L1083.7,2671.3 L1086.7,2667.4 L1089.8,2663.4 L1092.8,2659.5 L1095.9,2655.5 L1098.9,2651.6 L1101.9,2647.6 L1104.9,2643.7 L1107.8,2639.6 L1110.7,2635.6 L1113.5,2631.5 L1116.3,2627.3 L1119.1,2623.2 L1121.8,2619.0 L1124.6,2614.9 L1127.3,2610.7 L1130.0,2606.5 L1132.7,2602.3 L1135.4,2598.1 L1138.0,2593.9 L1140.7,2589.7 L1143.3,2585.5 L1145.9,2581.2 L1148.6,2577.0 L1151.2,2572.8 L1153.8,2568.5 L1156.4,2564.3 L1159.1,2560.1 L1161.7,2555.8 L1164.4,2551.6 L1167.0,2547.4 L1169.7,2543.2 L1172.3,2539.0 L1175.0,2534.8 L1177.6,2530.5 L1180.2,2526.3 L1182.8,2522.0 L1185.4,2517.8 L1187.9,2513.5 L1190.5,2509.2 L1193.0,2504.9 L1195.5,2500.6 L1198.0,2496.3 L1200.5,2492.0 L1203.0,2487.7 L1205.5,2483.4 L1208.1,2479.1 L1210.6,2474.8 L1213.1,2470.5 L1215.7,2466.2 L1218.2,2462.0 L1220.8,2457.7 L1223.4,2453.5 L1226.0,2449.2 L1228.6,2445.0 L1231.2,2440.7 L1233.8,2436.5 L1236.4,2432.2 L1239.0,2428.0 L1241.6,2423.7 L1244.1,2419.4 L1246.7,2415.2 L1249.2,2410.9 L1251.8,2406.6 L1254.3,2402.3" stroke="#1c3366" stroke-width="5.8" stroke-dasharray="5.6 6.9" fill="none"/>
<path d="M686.3,3443.8 L691.3,3443.5 L696.2,3443.1 L701.2,3442.8 L706.2,3442.5 L711.2,3442.1 L716.1,3441.8 L721.1,3441.5 L726.1,3441.1 L731.1,3440.8 L736.0,3440.4 L741.0,3440.1 L746.0,3439.7 L750.9,3439.3 L755.9,3438.9 L760.9,3438.5 L765.8,3438.1 L770.8,3437.7 L775.8,3437.3 L780.7,3436.9 L785.7,3436.4 L790.7,3436.0 L795.6,3435.5 L800.6,3435.1 L805.6,3434.6 L810.5,3434.1 L815.5,3433.6 L820.4,3433.1 L825.4,3432.5 L830.3,3432.0 L835.3,3431.4 L840.2,3430.9 L845.2,3430.3 L850.1,3429.7 L855.1,3429.1 L860.0,3428.5 L865.0,3427.9 L869.9,3427.2 L874.9,3426.5 L879.8,3425.9 L884.7,3425.2 L889.7,3424.4 L894.6,3423.7 L899.5,3423.0 L904.4,3422.2 L909.4,3421.4 L914.3,3420.7 L919.2,3419.9 L924.1,3419.1 L929.1,3418.3 L934.0,3417.4 L938.9,3416.6 L943.8,3415.8 L948.7,3415.0 L953.6,3414.2 L958.6,3413.4 L963.5,3412.5 L968.4,3411.7 L973.3,3410.9 L978.2,3410.0 L983.1,3409.2 L988.0,3408.3 L992.9,3407.5 L997.9,3406.6 L1002.8,3405.7 L1007.7,3404.8 L1012.6,3403.9 L1017.5,3403.0 L1022.3,3402.0 L1027.2,3401.0 L1032.1,3400.0 L1037.0,3399.0 L1041.9,3398.0 L1046.8,3396.9 L1051.6,3395.8 L1056.5,3394.7 L1061.3,3393.6 L1066.2,3392.4 L1071.0,3391.2 L1075.9,3390.0 L1080.7,3388.8 L1085.5,3387.5 L1090.3,3386.2 L1095.1,3384.9 L1099.9,3383.5 L1104.7,3382.1 L1109.5,3380.7 L1114.2,3379.2 L1119.0,3377.7 L1123.7,3376.1 L1128.5,3374.6 L1133.2,3373.0 L1137.9,3371.4 L1142.6,3369.7 L1147.3,3368.0 L1152.0,3366.3 L1156.6,3364.6 L1161.3,3362.8 L1166.0,3361.0 L1170.6,3359.2 L1175.2,3357.4 L1179.9,3355.5 L1184.5,3353.6 L1189.1,3351.8 L1193.7,3349.8 L1198.3,3347.9 L1202.9,3346.0 L1207.5,3344.0 L1212.1,3342.1 L1216.6,3340.1 L1221.2,3338.1 L1225.8,3336.0 L1230.3,3334.0 L1234.8,3331.9 L1239.4,3329.8 L1243.9,3327.7 L1248.4,3325.6 L1252.9,3323.4 L1257.4,3321.3 L1261.8,3319.1 L1266.3,3316.9 L1270.8,3314.6 L1275.2,3312.3 L1279.6,3310.1 L1284.0,3307.8 L1288.5,3305.4 L1292.9,3303.1 L1297.2,3300.7 L1301.6,3298.4 L1306.0,3296.0 L1310.4,3293.5 L1314.7,3291.1 L1319.1,3288.7 L1323.4,3286.2 L1327.7,3283.8 L1332.1,3281.3 L1336.4,3278.8 L1340.7,3276.2 L1345.0,3273.7 L1349.2,3271.1 L1353.5,3268.5 L1357.7,3265.8 L1361.9,3263.1 L1366.1,3260.4 L1370.2,3257.7 L1374.4,3254.9 L1378.5,3252.1 L1382.5,3249.2 L1386.6,3246.3 L1390.6,3243.3 L1394.5,3240.3 L1398.5,3237.2 L1402.4,3234.1 L1406.2,3230.9 L1410.0,3227.7 L1413.8,3224.4 L1417.5,3221.1 L1421.1,3217.7 L1424.8,3214.3 L1428.4,3210.8 L1431.9,3207.3 L1435.4,3203.8 L1438.9,3200.2 L1442.3,3196.6 L1445.8,3193.0 L1449.2,3189.3 L1452.5,3185.7 L1455.9,3182.0 L1459.2,3178.3 L1462.6,3174.6 L1465.9,3170.9 L1469.2,3167.1 L1472.5,3163.4 L1475.8,3159.7 L1479.1,3156.0 L1482.4,3152.2 L1485.7,3148.5 L1488.9,3144.7 L1492.2,3140.9 L1495.4,3137.0 L1498.5,3133.2 L1501.7,3129.3 L1504.8,3125.4 L1507.8,3121.5 L1510.9,3117.6 L1513.9,3113.6 L1516.9,3109.6 L1519.9,3105.6 L1522.8,3101.6 L1525.7,3097.5 L1528.6,3093.5 L1531.5,3089.4 L1534.3,3085.3 L1537.1,3081.1 L1539.9,3077.0 L1542.6,3072.8 L1545.3,3068.7 L1548.0,3064.5 L1550.6,3060.2 L1553.3,3056.0 L1555.8,3051.7 L1558.4,3047.4 L1560.9,3043.1 L1563.4,3038.8 L1565.8,3034.5 L1568.3,3030.1 L1570.7,3025.8 L1573.0,3021.4 L1575.4,3017.0 L1577.7,3012.6 L1580.0,3008.1 L1582.3,3003.7 L1584.5,2999.2 L1586.7,2994.8 L1588.9,2990.3 L1591.1,2985.8 L1593.3,2981.3 L1595.4,2976.8 L1597.6,2972.3 L1599.7,2967.8 L1601.8,2963.3 L1603.9,2958.8 L1606.0,2954.3 L1608.1,2949.7 L1610.2,2945.2 L1612.3,2940.7 L1614.3,2936.2 L1616.4,2931.6 L1618.5,2927.1 L1620.6,2922.6 L1622.6,2918.0 L1624.7,2913.5 L1626.8,2909.0 L1628.8,2904.4 L1630.9,2899.9 L1632.9,2895.3 L1635.0,2890.8 L1637.0,2886.2 L1639.0,2881.7 L1641.0,2877.1 L1643.1,2872.6 L1645.1,2868.0 L1647.1,2863.5 L1649.1,2858.9 L1651.1,2854.3 L1653.1,2849.8 L1655.1,2845.2 L1657.1,2840.6 L1659.1,2836.1 L1661.1,2831.5 L1663.1,2826.9 L1665.1,2822.4 L1667.1,2817.8 L1669.1,2813.2 L1671.1,2808.7 L1673.1,2804.1 L1675.1,2799.6 L1677.1,2795.0 L1679.1,2790.4 L1681.2,2785.9 L1683.2,2781.3 L1685.3,2776.8 L1687.3,2772.3 L1689.4,2767.7 L1691.5,2763.2 L1693.6,2758.7 L1695.7,2754.2 L1697.8,2749.6 L1699.9,2745.1 L1702.0,2740.6 L1704.2,2736.1 L1706.3,2731.6 L1708.5,2727.1 L1710.6,2722.6 L1712.8,2718.2 L1714.9,2713.7 L1717.1,2709.2 L1719.2,2704.7 L1721.4,2700.2 L1723.5,2695.7 L1725.6,2691.1 L1727.7,2686.6 L1729.8,2682.1 L1731.9,2677.6 L1734.0,2673.0 L1736.0,2668.5 L1738.1,2664.0 L1740.1,2659.4 L1742.2,2654.9 L1744.2,2650.3 L1746.3,2645.8 L1748.3,2641.2 L1750.4,2636.7 L1752.4,2632.2 L1754.5,2627.6 L1756.6,2623.1 L1758.7,2618.6 L1760.8,2614.1 L1762.9,2609.5 L1765.0,2605.0 L1767.1,2600.5 L1769.3,2596.0 L1771.4,2591.5 L1773.5,2587.0 L1775.7,2582.5 L1777.8,2578.0" stroke="#c00000" stroke-width="4.3" fill="none"/>
<path d="M690.2,3413.2 L695.2,3413.0 L700.2,3412.8 L705.2,3412.6 L710.2,3412.4 L715.2,3412.2 L720.2,3412.0 L725.2,3411.8 L730.2,3411.7 L735.1,3411.5 L740.1,3411.3 L745.1,3411.0 L750.1,3410.8 L755.1,3410.6 L760.1,3410.4 L765.1,3410.2 L770.1,3410.0 L775.1,3409.8 L780.1,3409.5 L785.1,3409.3 L790.1,3409.1 L795.1,3408.8 L800.1,3408.6 L805.0,3408.4 L810.0,3408.1 L815.0,3407.9 L820.0,3407.6 L825.0,3407.4 L830.0,3407.1 L835.0,3406.9 L840.0,3406.6 L845.0,3406.3 L850.0,3406.1 L855.0,3405.8 L860.0,3405.6 L864.9,3405.3 L869.9,3405.0 L874.9,3404.8 L879.9,3404.5 L884.9,3404.2 L889.9,3404.0 L894.9,3403.7 L899.9,3403.4 L904.9,3403.2 L909.9,3402.9 L914.9,3402.6 L919.8,3402.3 L924.8,3402.0 L929.8,3401.7 L934.8,3401.4 L939.8,3401.1 L944.8,3400.8 L949.8,3400.5 L954.8,3400.1 L959.8,3399.8 L964.7,3399.4 L969.7,3399.1 L974.7,3398.7 L979.7,3398.3 L984.7,3397.9 L989.7,3397.5 L994.6,3397.1 L999.6,3396.6 L1004.6,3396.2 L1009.6,3395.7 L1014.5,3395.3 L1019.5,3394.8 L1024.5,3394.3 L1029.5,3393.8 L1034.4,3393.2 L1039.4,3392.7 L1044.4,3392.2 L1049.3,3391.6 L1054.3,3391.1 L1059.3,3390.5 L1064.2,3389.9 L1069.2,3389.3 L1074.2,3388.7 L1079.1,3388.1 L1084.1,3387.5 L1089.0,3386.9 L1094.0,3386.2 L1099.0,3385.6 L1103.9,3384.9 L1108.9,3384.3 L1113.8,3383.6 L1118.8,3382.9 L1123.7,3382.3 L1128.7,3381.6 L1133.6,3380.8 L1138.6,3380.1 L1143.5,3379.4 L1148.5,3378.6 L1153.4,3377.8 L1158.4,3377.0 L1163.3,3376.2 L1168.2,3375.3 L1173.1,3374.5 L1178.1,3373.6 L1183.0,3372.7 L1187.9,3371.7 L1192.8,3370.8 L1197.7,3369.8 L1202.6,3368.8 L1207.5,3367.7 L1212.3,3366.7 L1217.2,3365.5 L1222.1,3364.4 L1226.9,3363.2 L1231.8,3362.0 L1236.6,3360.8 L1241.5,3359.6 L1246.3,3358.3 L1251.1,3357.0 L1256.0,3355.6 L1260.8,3354.2 L1265.6,3352.8 L1270.4,3351.4 L1275.2,3350.0 L1279.9,3348.5 L1284.7,3347.0 L1289.5,3345.4 L1294.2,3343.9 L1299.0,3342.3 L1303.7,3340.7 L1308.4,3339.1 L1313.1,3337.4 L1317.8,3335.7 L1322.5,3334.0 L1327.2,3332.3 L1331.9,3330.5 L1336.6,3328.7 L1341.3,3326.9 L1345.9,3325.1 L1350.6,3323.3 L1355.2,3321.5 L1359.8,3319.6 L1364.5,3317.7 L1369.1,3315.8 L1373.7,3313.9 L1378.4,3312.0 L1383.0,3310.1 L1387.6,3308.2 L1392.2,3306.3 L1396.8,3304.4 L1401.4,3302.4 L1406.0,3300.5 L1410.7,3298.6 L1415.3,3296.6 L1419.9,3294.7 L1424.5,3292.7 L1429.1,3290.8 L1433.7,3288.8 L1438.3,3286.8 L1442.8,3284.8 L1447.4,3282.8 L1452.0,3280.8 L1456.6,3278.8 L1461.1,3276.7 L1465.7,3274.6 L1470.2,3272.5 L1474.7,3270.4 L1479.2,3268.2 L1483.7,3266.0 L1488.1,3263.7 L1492.6,3261.4 L1496.9,3259.0 L1501.3,3256.6 L1505.6,3254.1 L1509.9,3251.5 L1514.2,3249.0 L1518.5,3246.3 L1522.7,3243.6 L1526.9,3240.9 L1531.1,3238.1 L1535.2,3235.3 L1539.3,3232.5 L1543.4,3229.6 L1547.5,3226.7 L1551.5,3223.8 L1555.6,3220.8 L1559.6,3217.8 L1563.5,3214.7 L1567.5,3211.6 L1571.4,3208.5 L1575.2,3205.3 L1579.1,3202.1 L1582.8,3198.9 L1586.6,3195.6 L1590.3,3192.2 L1594.0,3188.8 L1597.6,3185.4 L1601.2,3181.9 L1604.7,3178.4 L1608.2,3174.8 L1611.7,3171.2 L1615.1,3167.6 L1618.5,3164.0 L1622.0,3160.3 L1625.3,3156.6 L1628.7,3152.9 L1632.1,3149.2 L1635.5,3145.5 L1638.8,3141.8 L1642.2,3138.1 L1645.6,3134.5 L1649.0,3130.8 L1652.3,3127.1 L1655.7,3123.4 L1659.1,3119.7 L1662.5,3116.0 L1665.8,3112.3 L1669.2,3108.6 L1672.5,3104.9 L1675.9,3101.2 L1679.2,3097.5 L1682.5,3093.7 L1685.8,3090.0 L1689.1,3086.2 L1692.4,3082.4 L1695.6,3078.7 L1698.9,3074.9 L1702.1,3071.0 L1705.3,3067.2 L1708.5,3063.4 L1711.7,3059.5 L1714.9,3055.7 L1718.1,3051.9 L1721.3,3048.0 L1724.5,3044.1 L1727.7,3040.3 L1730.9,3036.4 L1734.0,3032.6 L1737.2,3028.7 L1740.4,3024.9 L1743.6,3021.0 L1746.8,3017.2 L1750.0,3013.3 L1753.2,3009.4 L1756.3,3005.6 L1759.5,3001.7 L1762.6,2997.8 L1765.8,2994.0 L1768.9,2990.1 L1772.0,2986.1 L1775.1,2982.2 L1778.2,2978.3 L1781.2,2974.3 L1784.3,2970.4 L1787.3,2966.4 L1790.2,2962.3 L1793.2,2958.3 L1796.1,2954.3 L1799.0,2950.2 L1801.9,2946.1 L1804.8,2942.0 L1807.6,2937.9 L1810.4,2933.8 L1813.3,2929.7 L1816.1,2925.5 L1818.9,2921.4 L1821.6,2917.2 L1824.4,2913.1 L1827.2,2908.9 L1830.0,2904.7 L1832.7,2900.6 L1835.5,2896.4 L1838.3,2892.2 L1841.0,2888.1 L1843.8,2883.9 L1846.6,2879.8 L1849.3,2875.6 L1852.1,2871.4 L1854.9,2867.3 L1857.6,2863.1 L1860.4,2858.9 L1863.2,2854.8 L1865.9,2850.6 L1868.7,2846.5 L1871.5,2842.3 L1874.3,2838.2 L1877.1,2834.0 L1879.8,2829.9 L1882.6,2825.7 L1885.4,2821.6 L1888.2,2817.4 L1891.0,2813.3 L1893.9,2809.2 L1896.7,2805.0 L1899.6,2800.9 L1902.4,2796.9 L1905.4,2792.8 L1908.3,2788.8 L1911.3,2784.7 L1914.3,2780.7 L1917.3,2776.8 L1920.4,2772.8 L1923.5,2768.9 L1926.6,2765.0 L1929.7,2761.1 L1932.9,2757.3 L1936.1,2753.4 L1939.3,2749.6 L1942.5,2745.7 L1945.7,2741.9" stroke="#cc1818" stroke-width="5.8" stroke-dasharray="5.6 6.8" fill="none"/>
<path d="M914.3,2860.5L914.3,2891.5 M900.9,2868.2L927.7,2883.8 M927.7,2868.2L900.9,2883.8 " stroke="#0a0aff" stroke-width="6.4" fill="none"/>
<path d="M1410.0,3213.6L1410.0,3244.6 M1396.6,3221.3L1423.4,3236.8 M1423.4,3221.3L1396.6,3236.8 " stroke="#0a0aff" stroke-width="6.4" fill="none"/>
<text x="308.0" y="2601.0" font-size="62" fill="#1c3366" stroke="#1c3366" stroke-width="0.8">STABLE for Kenney and Lau</text>
<text x="308.0" y="2672.5" font-size="62" fill="#1c3366" stroke="#1c3366" stroke-width="0.8">STABLE for Sherard</text>
<text x="308.0" y="2745.0" font-size="62" fill="#1c3366" stroke="#1c3366" stroke-width="0.8">UNSTABLE for Kezdi</text>
<text x="1821.5" y="2684.0" font-size="67.4" fill="#c00000" stroke="#c00000" stroke-width="0.4" font-style="italic" font-weight="bold">UNSTABLE</text>
<text x="1760.0" y="2443.0" font-size="58.5" fill="#1c1cff" stroke="#1c1cff" stroke-width="0" font-style="italic" transform="rotate(-39.5 1760.0 2443.0)">S=1.66F</text>
<path d="M1235,3463.5H1416" stroke="#0a0aff" stroke-width="7" stroke-dasharray="9.5 9.2" fill="none"/>
<path d="M1235,3532H1423" stroke="#0a0aff" stroke-width="3.6" stroke-dasharray="48 27" fill="none"/>
<path d="M1235,3601.5H1423" stroke="#0a0aff" stroke-width="3.6" fill="none"/>
<circle cx="1605.5" cy="3639.5" r="2.2" fill="#555"/><circle cx="1860" cy="3639" r="1.6" fill="#999"/><circle cx="1987" cy="3639" r="1.6" fill="#999"/>
<text x="1439.5" y="3478.0" font-size="58" fill="#111" stroke="#111" stroke-width="1.0">Kezdi[13]:24.9%</text>
<text x="1439.5" y="3549.3" font-size="58" fill="#111" stroke="#111" stroke-width="1.0">Sherard[14]:21.5%</text>
<text x="1439.5" y="3617.3" font-size="58" fill="#111" stroke="#111" stroke-width="1.0">Kenney and Lau[15]:1.66F</text>
<text x="1103.0" y="1997.5" font-size="80" fill="#000" stroke="#000" stroke-width="0.4">(<tspan font-weight="bold">a</tspan>)</text>
<text x="1100.5" y="4002.5" font-size="81" fill="#000" stroke="#000" stroke-width="0.4">(<tspan font-weight="bold">b</tspan>)</text>

</svg>
</body></html>
